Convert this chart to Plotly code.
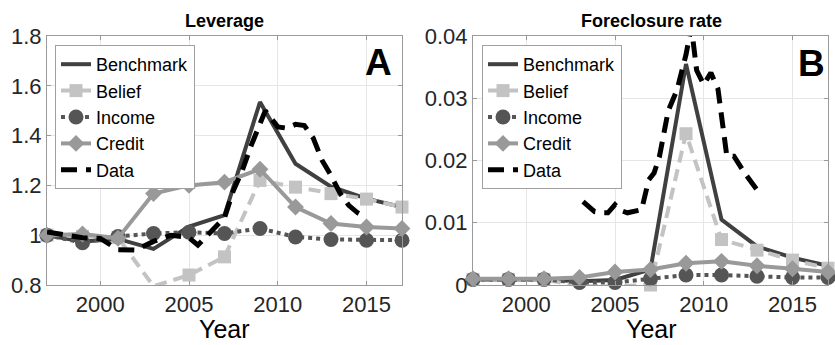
import plotly.graph_objects as go

# ---------------- data ----------------
years = [1997, 1999, 2001, 2003, 2005, 2007, 2009, 2011, 2013, 2015, 2017]

lev_benchmark = [1.0, 0.975, 0.985, 0.945, 1.035, 1.08, 1.535, 1.287, 1.195, 1.147, 1.113]
lev_belief    = [1.0, 0.995, 0.99, 0.795, 0.84, 0.913, 1.22, 1.193, 1.167, 1.145, 1.113]
lev_income    = [1.0, 0.97, 0.995, 1.007, 1.012, 1.007, 1.027, 0.993, 0.983, 0.98, 0.98]
lev_credit    = [1.0, 1.005, 0.988, 1.167, 1.2, 1.213, 1.265, 1.113, 1.047, 1.033, 1.027]

lev_data_years = [1997, 1998, 1999, 2000, 2001, 2002, 2003, 2004, 2005, 2005.5, 2006.5, 2007,
                  2007.5, 2008, 2008.5, 2009, 2009.3, 2010, 2010.5, 2011, 2011.5, 2012, 2012.5,
                  2013, 2013.5, 2014, 2014.5, 2015]
lev_data = [1.013, 1.0, 0.99, 0.987, 0.942, 0.94, 0.975, 1.0, 0.99, 0.96, 1.03, 1.07,
            1.18, 1.26, 1.36, 1.45, 1.5, 1.435, 1.43, 1.445, 1.44, 1.39, 1.3,
            1.24, 1.17, 1.12, 1.09, 1.07]

fc_benchmark = [0.0009, 0.0009, 0.0009, 0.0006, 0.0008, 0.0025, 0.0355, 0.0105, 0.0062, 0.0044, 0.0031]
fc_belief    = [0.0009, 0.0009, 0.0009, -0.0002, -0.0002, 0.0, 0.0243, 0.0073, 0.0056, 0.004, 0.0027]
fc_income    = [0.0009, 0.0009, 0.0009, 0.0004, 0.0004, 0.001, 0.0016, 0.0016, 0.0014, 0.0012, 0.0012]
fc_credit    = [0.001, 0.001, 0.001, 0.0012, 0.0021, 0.0025, 0.0035, 0.0038, 0.0031, 0.0026, 0.0021]

fc_data_years = [2003.2, 2003.85, 2004.3, 2004.6, 2005.0, 2005.3, 2005.7, 2006.5, 2006.9, 2007.2,
                 2007.5, 2008.0, 2008.5, 2009.0, 2009.3, 2009.6, 2010.0, 2010.4, 2010.8, 2011.3,
                 2011.7, 2012.3, 2013.0, 2013.3]
fc_data = [0.0134, 0.0118, 0.0116, 0.0116, 0.0129, 0.012, 0.0116, 0.0121, 0.0169, 0.018,
           0.0206, 0.028, 0.0314, 0.037, 0.0415, 0.0345, 0.0322, 0.0341, 0.0315, 0.0207,
           0.0207, 0.018, 0.0153, 0.0145]

series_names = ["Benchmark", "Belief", "Income", "Credit", "Data"]
xtick_vals = [2000, 2005, 2010, 2015]
lev_ticks = [0.8, 1.0, 1.2, 1.4, 1.6, 1.8]
lev_ticktext = ["0.8", "1", "1.2", "1.4", "1.6", "1.8"]
fc_ticks = [0, 0.01, 0.02, 0.03, 0.04]
fc_ticktext = ["0", "0.01", "0.02", "0.03", "0.04"]

# ---------------- styles ----------------
FONT = "Arial, Liberation Sans, sans-serif"
C_BENCH = "#404040"
C_BELIEF = "#c3c3c3"
C_INCOME = "#555555"
C_CREDIT = "#999999"
C_DATA = "#000000"

fig = go.Figure()


def add_panel(xa, ya, legend, bench, belief, income, credit, dyears, dvals):
    common = dict(xaxis=xa, yaxis=ya, legend=legend, cliponaxis=False, hoverinfo="skip")
    fig.add_trace(go.Scatter(x=years, y=bench, name=series_names[0], mode="lines",
                             line=dict(color=C_BENCH, width=4), **common))
    fig.add_trace(go.Scatter(x=years, y=belief, name=series_names[1], mode="lines+markers",
                             line=dict(color=C_BELIEF, width=4, dash="12px,7px"),
                             marker=dict(symbol="square", size=13, color=C_BELIEF), **common))
    fig.add_trace(go.Scatter(x=years, y=income, name=series_names[2], mode="lines+markers",
                             line=dict(color=C_INCOME, width=4, dash="dot"),
                             marker=dict(symbol="circle", size=15, color=C_INCOME), **common))
    fig.add_trace(go.Scatter(x=years, y=credit, name=series_names[3], mode="lines+markers",
                             line=dict(color=C_CREDIT, width=4),
                             marker=dict(symbol="diamond", size=13, color=C_CREDIT), **common))
    fig.add_trace(go.Scatter(x=dyears, y=dvals, name=series_names[4], mode="lines",
                             line=dict(color=C_DATA, width=5, dash="16px,9px"), **common))


add_panel("x", "y", "legend", lev_benchmark, lev_belief, lev_income, lev_credit, lev_data_years, lev_data)
add_panel("x2", "y2", "legend2", fc_benchmark, fc_belief, fc_income, fc_credit, fc_data_years, fc_data)

W, H = 835, 345
top_px, bot_px = 36, 285
ydom = [1 - bot_px / H, 1 - top_px / H]

axis_common = dict(showline=True, linecolor="#9a9a9a", linewidth=1, mirror="ticks",
                   ticks="inside", ticklen=4, tickcolor="#9a9a9a", automargin=False,
                   showgrid=True, gridcolor="#e6e6e6", gridwidth=1, zeroline=False,
                   tickfont=dict(family=FONT, size=22, color="#262626"))

legend_common = dict(y=1 - 45 / H, xanchor="left", yanchor="top",
                     bgcolor="white", bordercolor="#a0a0a0", borderwidth=1,
                     font=dict(family=FONT, size=18, color="#000"), tracegroupgap=0)

fig.update_layout(
    width=W, height=H,
    margin=dict(l=0, r=0, t=0, b=0, autoexpand=False),
    paper_bgcolor="white", plot_bgcolor="white",
    xaxis=dict(domain=[47 / W, 402 / W], range=[1997, 2017], tickvals=xtick_vals,
               anchor="y", **axis_common),
    yaxis=dict(domain=ydom, range=[0.8, 1.8], tickvals=lev_ticks, ticktext=lev_ticktext,
               anchor="x", **axis_common),
    xaxis2=dict(domain=[473 / W, 828 / W], range=[1997, 2017], tickvals=xtick_vals,
                anchor="y2", **axis_common),
    yaxis2=dict(domain=ydom, range=[0, 0.04], tickvals=fc_ticks, ticktext=fc_ticktext,
                anchor="x2", **axis_common),
    legend=dict(x=55 / W, **legend_common),
    legend2=dict(x=482 / W, **legend_common),
    showlegend=True,
)

annots = [
    dict(text="<b>Leverage</b>", x=224.5 / W, y=1 - 21 / H, size=18),
    dict(text="<b>Foreclosure rate</b>", x=651 / W, y=1 - 21 / H, size=18),
    dict(text="Year", x=224.5 / W, y=1 - 329 / H, size=25),
    dict(text="Year", x=651 / W, y=1 - 329 / H, size=25),
    dict(text="<b>A</b>", x=378 / W, y=1 - 62 / H, size=37),
    dict(text="<b>B</b>", x=811 / W, y=1 - 63 / H, size=37),
]
for a in annots:
    fig.add_annotation(text=a["text"], x=a["x"], y=a["y"], xref="paper", yref="paper",
                       xanchor="center", yanchor="middle", showarrow=False,
                       font=dict(family=FONT, size=a["size"], color="#000"))

fig.write_html("out.html", config={"displayModeBar": False},
               post_script="document.body.style.margin='0';document.body.style.overflow='hidden';")
